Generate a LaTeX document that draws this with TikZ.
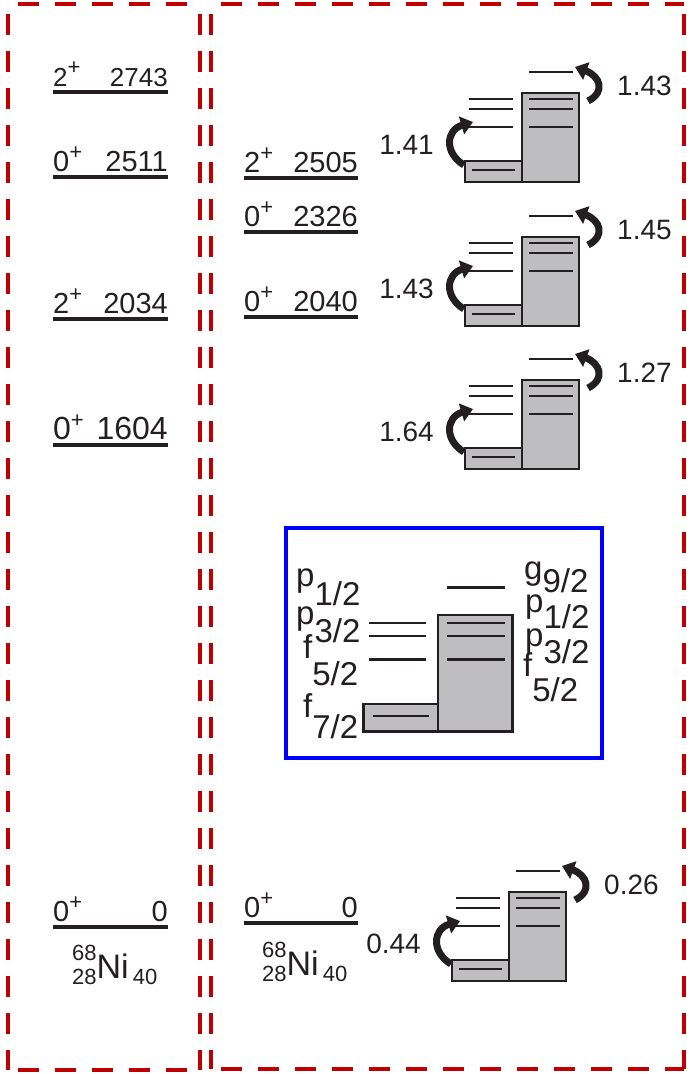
\documentclass[tikz,border=0pt]{standalone}
\usepackage{fontspec}
\setmainfont{Liberation Sans}
\usetikzlibrary{arrows.meta}
\definecolor{ink}{HTML}{231F20}
\definecolor{shellgray}{HTML}{BEBEC0}
\definecolor{boxred}{HTML}{C00000}
\definecolor{boxblue}{HTML}{0000FF}
\tikzset{
  reddash/.style={draw=boxred, line width=4.5pt, dash pattern=on 21pt off 16pt, dash phase=27pt},
  lvl/.style={draw=ink, line width=4pt},
  shellbox/.style={draw=ink, fill=shellgray, line width=2.6pt},
  orbit/.style={draw=ink, line width=2.6pt},
  hookarrow/.style={draw=ink, line width=7pt, -{Triangle[length=12pt,width=18pt]}},
  txt/.style={inner sep=0pt, text=ink},
}
\newcommand\mklevel[7]{%
  \draw[lvl] (#2,#4) -- (#3,#4);
  \node[txt, anchor=base west] (#1s) at (#2,#4-6) {\fontsize{#7}{#7}\selectfont #5\raisebox{12pt}{\fontsize{22}{22}\selectfont +}};
  \node[txt, anchor=base east] (#1e) at (#3,#4-6) {\fontsize{#7}{#7}\selectfont #6};
}
\newcommand\shellpair[2]{%
  \begin{scope}[shift={#1}, scale=#2]
    \draw[shellbox] (-57,68) rectangle (0,89);
    \draw[shellbox] (0,0) rectangle (57,89);
    \draw[orbit] (-50,77) -- (-7,77);
    \foreach \yy in {6,16,34}{\draw[orbit] (-53,\yy) -- (-9,\yy); \draw[orbit] (7,\yy) -- (51,\yy);}
    \draw[orbit] (7,-21) -- (51,-21);
  \end{scope}}
\newcommand\shellarrows[4]{%
  \begin{scope}[shift={#2}]
    \coordinate (#1ra) at (66,8);
    \coordinate (#1rb) at (53,-26);
    \coordinate (#1la) at (-58,72);
    \coordinate (#1lb) at (-49,29);
    \draw[hookarrow] (#1ra) .. controls (84,-1) and (78,-17) .. (#1rb);
    \draw[hookarrow] (#1la) .. controls (-78,60) and (-76,37) .. (#1lb);
    \node[txt, anchor=west] (#1rl) at (95,-7) {\fontsize{28}{28}\selectfont #3};
    \node[txt, anchor=east] (#1ll) at (-88,52) {\fontsize{28}{28}\selectfont #4};
  \end{scope}}
\newcommand\orbl[3]{#1\lower#3pt\hbox{#2}}
\newcommand\nilabel{{\fontsize{22}{22}\selectfont\rlap{\raisebox{18pt}{68}}\raisebox{-6pt}{28}}{\fontsize{34}{34}\selectfont Ni}\kern4pt{\fontsize{22}{22}\selectfont\raisebox{-6pt}{40}}}
\begin{document}
\begin{tikzpicture}[x=1pt,y=-1pt]
  \useasboundingbox (0,0) rectangle (692,1074);
  % red dashed frames
  \draw[reddash] (8,4) -- (200,4);
  \draw[reddash] (8,4) -- (8,1070);
  \draw[reddash] (8,1070) -- (200,1070);
  \draw[reddash] (200,4) -- (200,1070);
  \draw[reddash] (211,4) -- (684,4);
  \draw[reddash] (211,4) -- (211,1069);
  \draw[reddash] (211,1069) -- (684,1069);
  \draw[reddash] (684,4) -- (684,1069);
  % left column levels
  \mklevel{a1}{53}{168}{92}{2}{2743}{26}
  \mklevel{a2}{53}{168}{177}{0}{2511}{29}
  \mklevel{a3}{53}{168}{319}{2}{2034}{29}
  \mklevel{a4}{53}{168}{445}{0}{1604}{32}
  \mklevel{a5}{53}{168}{927}{0}{0}{29}
  \node[txt, anchor=base west] (ni1) at (72,978) {\nilabel};
  % middle column levels
  \mklevel{b1}{244}{358}{178}{2}{2505}{29}
  \mklevel{b2}{244}{358}{232}{0}{2326}{29}
  \mklevel{b3}{244}{358}{317}{0}{2040}{29}
  \mklevel{b4}{244}{358}{923}{0}{0}{29}
  \node[txt, anchor=base west] (ni2) at (262,975) {\nilabel};
  % shell schemes
  \shellpair{(522,93)}{1}
  \shellarrows{s1}{(522,93)}{1.43}{1.41}
  \shellpair{(522,237)}{1}
  \shellarrows{s2}{(522,237)}{1.45}{1.43}
  \shellpair{(522,380)}{1}
  \shellarrows{s3}{(522,380)}{1.27}{1.64}
  \shellpair{(509,892)}{1}
  \shellarrows{s4}{(509,892)}{0.26}{0.44}
  % blue inset
  \draw[draw=boxblue, line width=3.5pt] (286,528) rectangle (602,758);
  \shellpair{(438,615)}{1.31}
  \begin{scope}[every node/.style={txt, anchor=base west, font=\fontsize{33}{33}\selectfont}]
    \node (l1) at (296,586) {\orbl{p}{1/2}{19}};
    \node (l2) at (296,624) {\orbl{p}{3/2}{18}};
    \node (l3) at (303,658) {\orbl{f}{5/2}{27}};
    \node (l4) at (303,717) {\orbl{f}{7/2}{21}};
    \node (r1) at (524,579) {\orbl{g}{9/2}{13}};
    \node (r2) at (525,612) {\orbl{p}{1/2}{16}};
    \node (r3) at (525,646) {\orbl{p}{3/2}{17}};
    \node (r4) at (523,676) {\orbl{f}{5/2}{25}};
  \end{scope}
\end{tikzpicture}
\end{document}
